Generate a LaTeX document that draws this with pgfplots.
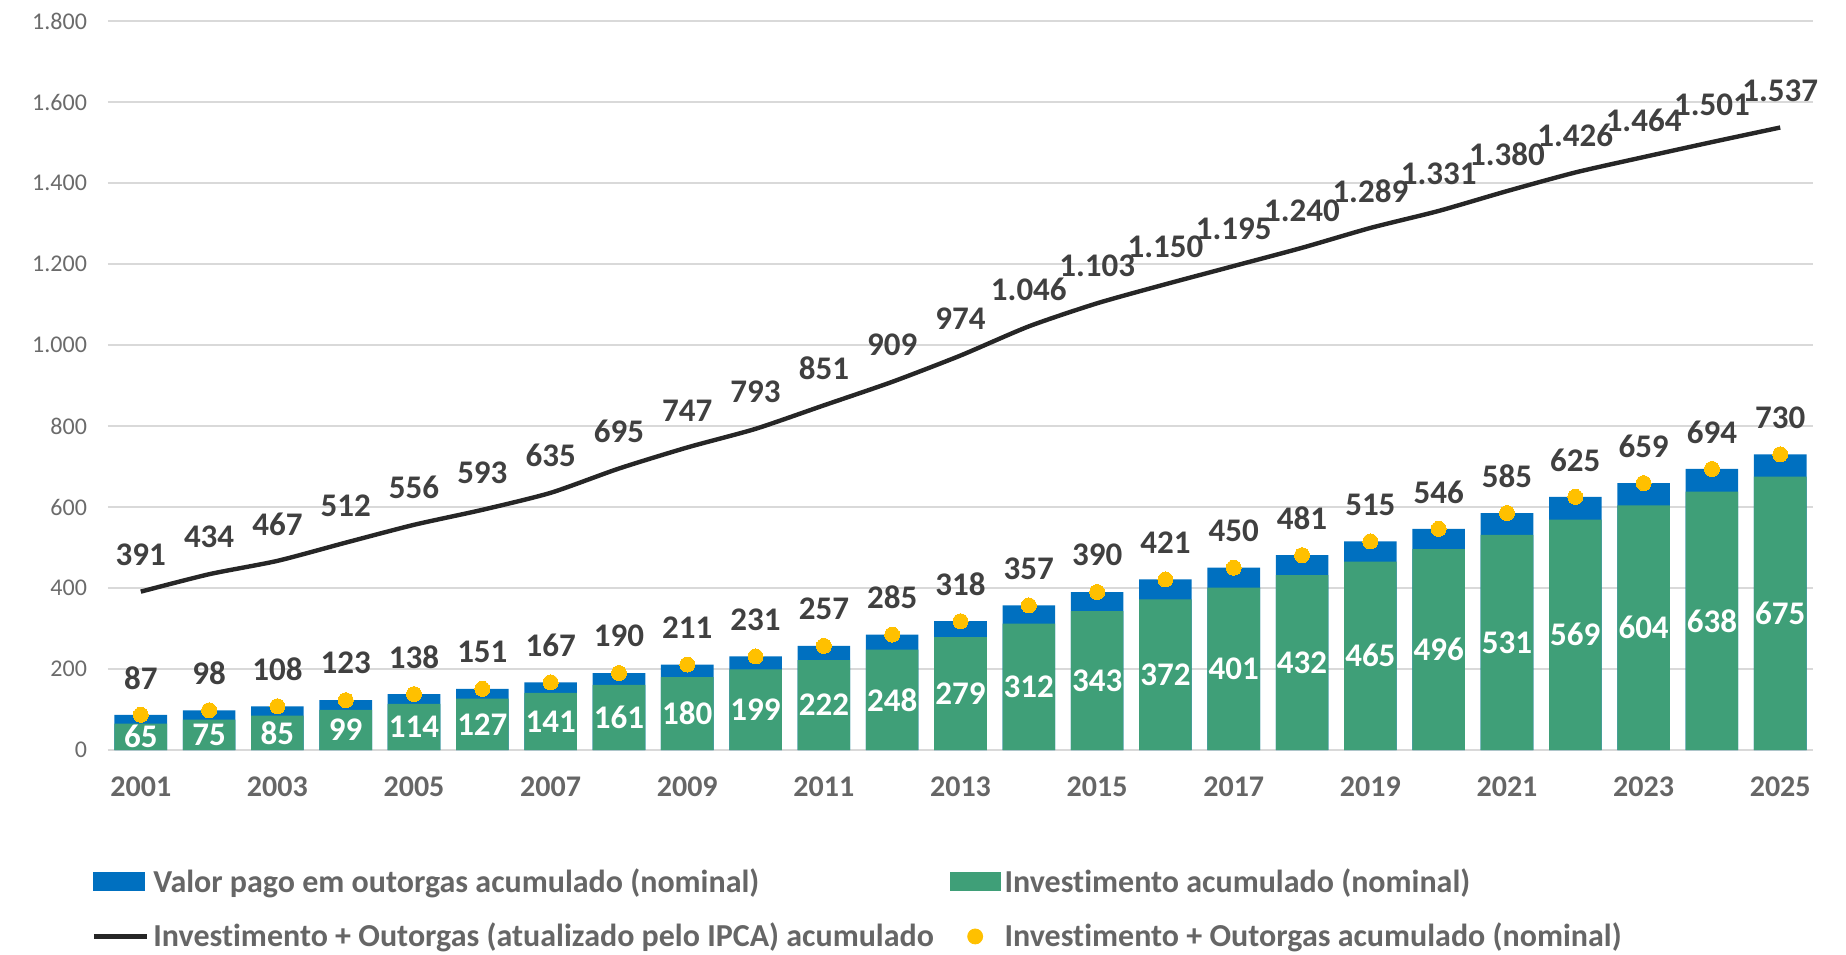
\documentclass[border=0pt]{standalone}
\usepackage{pgfplots}
\pgfplotsset{compat=1.18}
\usepackage{pgfplotstable}
\usepackage{fontspec}
\setmainfont{Carlito}[Ligatures=NoCommon]
\definecolor{greenc}{HTML}{3F9F78}
\definecolor{bluec}{HTML}{0070C0}
\definecolor{yellowc}{HTML}{FFC000}
\definecolor{linec}{HTML}{262626}
\definecolor{lblc}{HTML}{404040}
\definecolor{tickc}{HTML}{6B6B6B}
\definecolor{yearc}{HTML}{666666}
\definecolor{gridc}{HTML}{D9D9D9}
\pgfplotstableread{
year green total line
2001 65 87 391
2002 75 98 434
2003 85 108 467
2004 99 123 512
2005 114 138 556
2006 127 151 593
2007 141 167 635
2008 161 190 695
2009 180 211 747
2010 199 231 793
2011 222 257 851
2012 248 285 909
2013 279 318 974
2014 312 357 1046
2015 343 390 1103
2016 372 421 1150
2017 401 450 1195
2018 432 481 1240
2019 465 515 1289
2020 496 546 1331
2021 531 585 1380
2022 569 625 1426
2023 604 659 1464
2024 638 694 1501
2025 675 730 1537
}\datatable
\begin{document}
\begin{tikzpicture}
\begin{axis}[
  scale only axis,
  width=852.5bp, height=364.5bp,
  xmin=2000.52, xmax=2025.48,
  ymin=0, ymax=1800,
  ytick={0,200,...,1800},
  xtick={2001,2003,...,2025},
  xticklabels={2001,2003,2005,2007,2009,2011,2013,2015,2017,2019,2021,2023,2025},
  axis line style={draw=none},
  tick style={draw=none},
  ymajorgrids,
  major grid style={gridc, line width=0.75bp},
  /pgf/number format/.cd, fixed, precision=0, 1000 sep={.}, assume math mode=true, /pgfplots/.cd,
  yticklabel style={font=\fontsize{12bp}{14bp}\selectfont, text=tickc, xshift=-7bp},
  xticklabel style={font=\fontsize{15bp}{17bp}\selectfont\bfseries, text=yearc, yshift=-10bp},
  legend columns=2,
  legend cell align=left,
  legend style={at={(axis cs:2000.52,0)}, anchor=north west, xshift=-8.5bp, yshift=-57bp,
    draw=none, fill=none, inner sep=0pt,
    font=\fontsize{16bp}{19bp}\selectfont\bfseries, text=yearc,
    row sep=10bp,
    /tikz/every even column/.append style={column sep=6bp}},
]
\addplot[forget plot, ybar, bar width=0.77, bar shift=0pt, fill=bluec, draw=none]
  table[x=year, y=total] {\datatable};
\addplot[forget plot, ybar, bar width=0.77, bar shift=0pt, fill=greenc, draw=none]
  table[x=year, y=green] {\datatable};
\addplot[forget plot, draw=none, mark=none, point meta=explicit,
  nodes near coords,
  every node near coord/.style={anchor=center, text=white, font=\fontsize{16.5bp}{18bp}\selectfont\bfseries}]
  table[x=year, y expr=\thisrow{green}/2, meta=green] {\datatable};
\addplot[forget plot, linec, line width=2.2bp, smooth, tension=0.4, mark=none,
  nodes near coords,
  every node near coord/.style={anchor=center, yshift=18.5bp, text=lblc, font=\fontsize{16.5bp}{18bp}\selectfont\bfseries}]
  table[x=year, y=line] {\datatable};
\addplot[forget plot, only marks, mark=*, mark size=3.75bp, mark options={fill=yellowc, draw=yellowc, line width=0pt},
  nodes near coords,
  every node near coord/.style={anchor=center, yshift=18.5bp, text=lblc, font=\fontsize{16.5bp}{18bp}\selectfont\bfseries}]
  table[x=year, y=total] {\datatable};
\addlegendimage{legend image code/.code={\fill[bluec] (0bp,-4.5bp) rectangle (25bp,4.5bp);}}
\addlegendentry{Valor pago em outorgas acumulado (nominal)}
\addlegendimage{legend image code/.code={\fill[greenc] (0bp,-4.5bp) rectangle (25bp,4.5bp);}}
\addlegendentry{Investimento acumulado (nominal)}
\addlegendimage{legend image code/.code={\draw[linec, line width=2.5bp] (0bp,0bp) -- (26.5bp,0bp);}}
\addlegendentry{Investimento + Outorgas (atualizado pelo IPCA) acumulado}
\addlegendimage{legend image code/.code={\fill[yellowc] (12.5bp,0bp) circle (3.75bp);}}
\addlegendentry{Investimento + Outorgas acumulado (nominal)}
\end{axis}
\pgfresetboundingbox
\path (-54bp,-102.5bp) rectangle (869bp,375bp);
\end{tikzpicture}
\end{document}
